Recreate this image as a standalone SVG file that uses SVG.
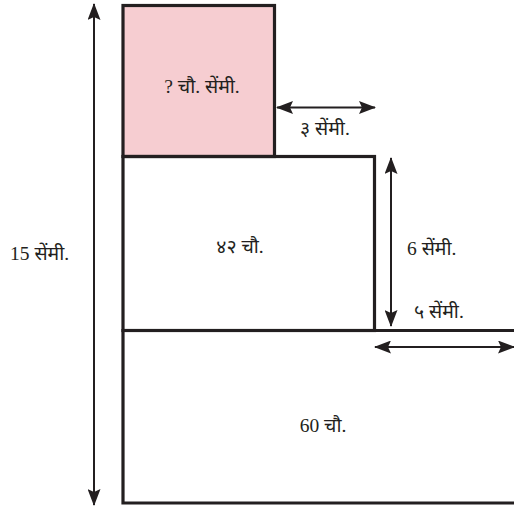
<svg xmlns="http://www.w3.org/2000/svg" width="514" height="507" viewBox="0 0 514 507">
<style>
.box{stroke:#231f20;stroke-width:3.2;fill:none}
.pink{fill:#f6cdd1}
.dim{stroke:#231f20;stroke-width:2;fill:none}
.lbl{font-family:"Liberation Serif","Noto Sans Devanagari","Noto Sans",serif;font-size:19.5px;fill:#231f20}
</style>
<defs>
<marker id="ah" viewBox="0 0 17 13" refX="16" refY="6.5" markerWidth="17" markerHeight="13" markerUnits="userSpaceOnUse" orient="auto-start-reverse">
<path d="M0,0 L17,6.5 L0,13 L3,6.5 Z" fill="#231f20"/>
</marker>
</defs>
<rect width="514" height="507" fill="#ffffff"/>
<g id="top-square">
<rect x="123" y="5.5" width="151.5" height="151" class="box pink"/>
<text class="lbl" x="202" y="93" text-anchor="middle">? चौ. सेंमी.</text>
</g>
<g id="middle-rect">
<rect x="123" y="156.5" width="251.5" height="174" class="box"/>
<text class="lbl" x="240" y="253" text-anchor="middle">४२ चौ.</text>
</g>
<g id="bottom-rect">
<polyline points="514,330.5 123,330.5 123,503 514,503" class="box"/>
<text class="lbl" x="323" y="432" text-anchor="middle">60 चौ.</text>
</g>
<g id="connectors">
<line x1="94" y1="4" x2="94" y2="505" class="dim" marker-start="url(#ah)" marker-end="url(#ah)"/>
<line x1="277" y1="107.5" x2="375" y2="107.5" class="dim" marker-start="url(#ah)" marker-end="url(#ah)"/>
<line x1="391" y1="158" x2="391" y2="326" class="dim" marker-start="url(#ah)" marker-end="url(#ah)"/>
<line x1="375" y1="347" x2="514" y2="347" class="dim" marker-start="url(#ah)" marker-end="url(#ah)"/>
</g>
<g id="labels">
<text class="lbl" x="10" y="260">15 सेंमी.</text>
<text class="lbl" x="300" y="135">३ सेंमी.</text>
<text class="lbl" x="407" y="255">6 सेंमी.</text>
<text class="lbl" x="414" y="318">५ सेंमी.</text>
</g>
</svg>
